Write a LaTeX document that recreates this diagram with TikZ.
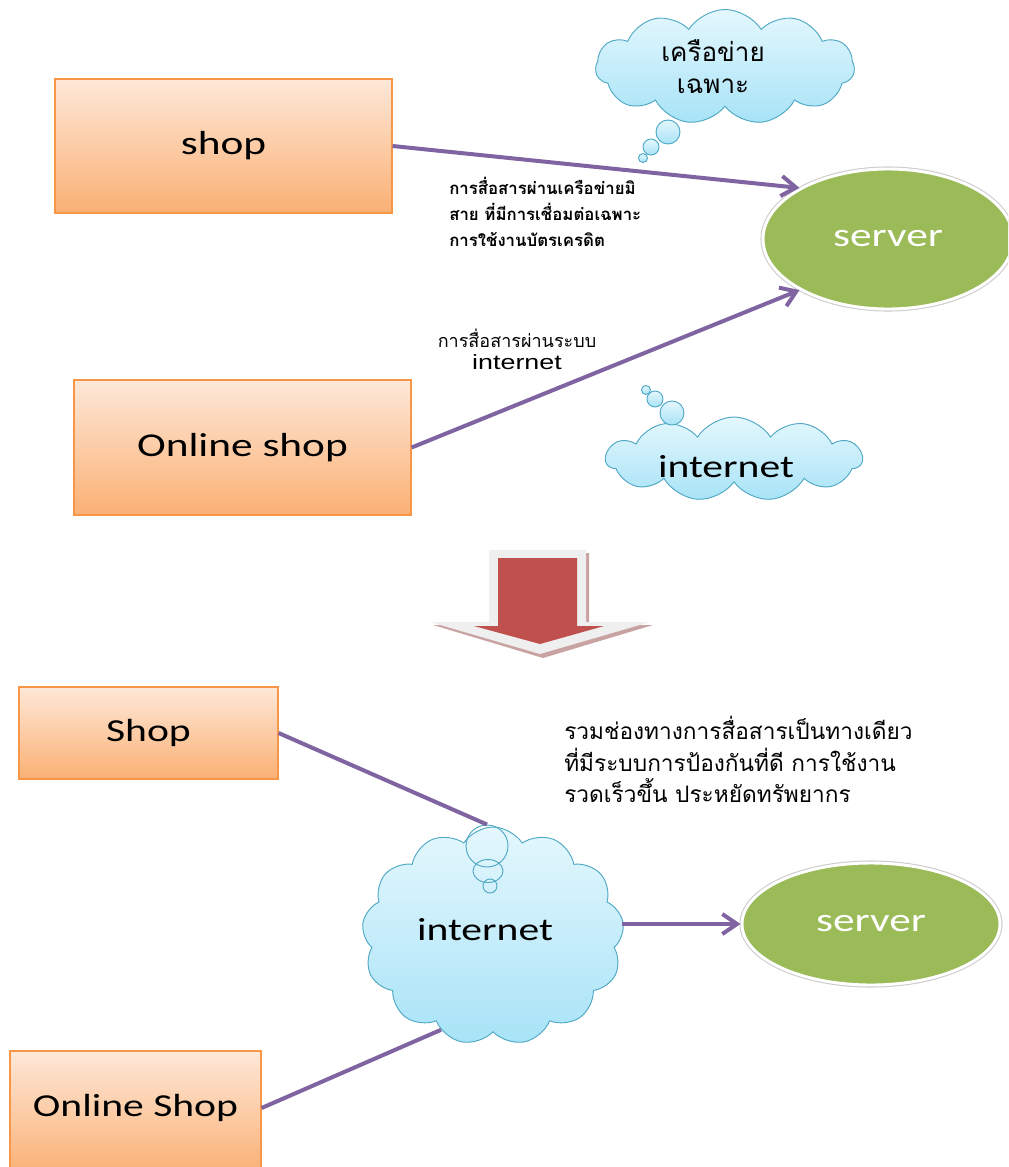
\documentclass[tikz,border=0pt]{standalone}
\usepackage{fontspec}
\setmainfont{Carlito}
\newfontfamily\boxfont[FakeStretch=1.3]{Carlito}
\newfontfamily\thaifont[Script=Thai]{Loma}
\newfontfamily\labelsans[FakeStretch=1.3]{Liberation Sans}
\usetikzlibrary{shapes.symbols,shapes.geometric,arrows.meta}

\definecolor{boxtop}{HTML}{FEE8D8}
\definecolor{boxbot}{HTML}{FAB074}
\definecolor{boxedge}{HTML}{F79646}
\definecolor{cloudtop}{HTML}{E4F7FD}
\definecolor{cloudbot}{HTML}{A8E3F7}
\definecolor{cloudedge}{HTML}{4FA8C4}
\definecolor{servergreen}{HTML}{9BBB59}
\definecolor{linkpurple}{HTML}{8064A2}
\definecolor{bigred}{HTML}{C0504D}
\definecolor{arrowhalo}{HTML}{EFEFEF}
\definecolor{arrowshade}{HTML}{C9A3A2}

\tikzset{
  boxnode/.style={rectangle, draw=boxedge, line width=0.9pt,
    top color=boxtop, bottom color=boxbot, inner sep=0pt,
    font=\boxfont\fontsize{25}{30}\selectfont},
  servernode/.style={ellipse, fill=servergreen, draw=white, line width=2.2pt,
    preaction={draw=black!20, line width=3.8pt}, inner sep=0pt,
    text=white, font=\boxfont\fontsize{25}{30}\selectfont},
  cloudnode/.style={cloud, cloud puffs=11, cloud puff arc=115, cloud ignores aspect,
    draw=cloudedge, line width=0.7pt, top color=cloudtop, bottom color=cloudbot,
    inner sep=0pt, align=center},
  cloudtext/.style={inner sep=0pt, font=\boxfont\fontsize{24}{28}\selectfont},
  bubble/.style={circle, draw=cloudedge, line width=0.7pt,
    top color=cloudtop, bottom color=cloudbot, inner sep=0pt},
  ring/.style={draw=cloudedge, line width=0.7pt, inner sep=0pt},
  link/.style={draw=linkpurple, line width=3pt},
  linkarrow/.style={link, -{Straight Barb[length=11pt,width=15pt]}},
  thailabel/.style={align=left, inner sep=0pt,
    font=\thaifont\bfseries\fontsize{12.6}{19.5}\selectfont},
}

\begin{document}
\begin{tikzpicture}[x=0.75pt,y=-0.75pt]
\clip (0,0) rectangle (1008,1167);
\fill[white] (0,0) rectangle (1008,1167);

% ---------- dedicated network (top half) ----------
\node[boxnode, minimum width=337*0.75pt, minimum height=134*0.75pt] (shopA) at (223.5,146) {shop};
\node[boxnode, minimum width=337*0.75pt, minimum height=135*0.75pt] (onlineA) at (242.5,447.5) {Online shop};
\node[servernode, minimum width=250*0.75pt, minimum height=140*0.75pt] (serverA) at (888,239) {server};

% private network cloud with its thought bubbles
\node[cloudnode, minimum width=259*0.75pt, minimum height=115*0.75pt,
      font=\thaifont\fontsize{19.5}{24}\selectfont] (privnet) at (725,67) {\hspace*{-18pt}เครือข่าย\\\hspace*{-18pt}เฉพาะ};
\node[bubble, minimum size=24*0.75pt] (pbA) at (668,132) {};
\node[bubble, minimum size=16*0.75pt] (pbB) at (651,147) {};
\node[bubble, minimum size=9*0.75pt] (pbC) at (643,158) {};

% internet cloud with its thought bubbles
\node[cloudnode, minimum width=256*0.75pt, minimum height=84*0.75pt] (netA) at (734,459) {};
\node[cloudtext] (netAtext) at (726,467) {internet};
\node[bubble, minimum size=24*0.75pt] (ibA) at (672,413) {};
\node[bubble, minimum size=16*0.75pt] (ibB) at (655,399) {};
\node[bubble, minimum size=9*0.75pt] (ibC) at (646,390) {};

\draw[linkarrow] (shopA.east) -- (serverA.150);
\draw[linkarrow] (onlineA.east) -- (serverA.210);

\node[thailabel, anchor=north west] (labA) at (449,177)
  {การสื่อสารผ่านเครือข่ายมิ\\สาย ที่มีการเชื่อมต่อเฉพาะ\\การใช้งานบัตรเครดิต};
\node[inner sep=0pt, font=\thaifont\fontsize{13.5}{16}\selectfont] (labB) at (517,338)
  {การสื่อสารผ่านระบบ};
\node[inner sep=0pt, font=\labelsans\fontsize{15.5}{18}\selectfont] (labC) at (517,362)
  {internet};

% ---------- big transition arrow ----------
\fill[arrowshade] (492,553) -- (589,553) -- (589,625) -- (653,625) -- (543,658)
  -- (433,625) -- (492,625) -- cycle;
\fill[arrowhalo] (489,550) -- (586,550) -- (586,622) -- (650,622) -- (540,654)
  -- (430,622) -- (489,622) -- cycle;
\fill[bigred] (498,558) -- (577,558) -- (577,626) -- (604,626) -- (540,644)
  -- (474,626) -- (498,626) -- cycle;

% ---------- shared internet (bottom half) ----------
\node[boxnode, minimum width=259*0.75pt, minimum height=92*0.75pt,
      font=\boxfont\fontsize{24}{28}\selectfont] (shopB) at (148.5,733) {Shop};
\node[boxnode, minimum width=251*0.75pt, minimum height=124*0.75pt] (onlineB) at (135.5,1113) {};
\node[cloudtext] (onlineBtext) at (135.5,1108) {Online Shop};
\node[servernode, minimum width=258*0.75pt, minimum height=122*0.75pt] (serverB) at (871,924) {server};

\node[cloudnode, minimum width=262*0.75pt, minimum height=218*0.75pt, cloud puffs=13] (netB) at (493,936) {};
\node[cloudtext] (netBtext) at (485,930) {internet};
\node[ring, circle, minimum size=42*0.75pt] (nbA) at (487,846) {};
\node[ring, ellipse, minimum width=30*0.75pt, minimum height=23*0.75pt] (nbB) at (488,871) {};
\node[ring, circle, minimum size=14*0.75pt] (nbC) at (490,886) {};

\draw[link] (shopB.east) -- (nbA.north);
\draw[link] (onlineB.east |- onlineBtext) -- (netB.241);
\draw[linkarrow] (netB.east |- serverB.west) -- (serverB.west);

\node[align=left, anchor=north west, inner sep=0pt,
      font=\thaifont\fontsize{17}{23.6}\selectfont] (summary) at (564,716)
  {รวมช่องทางการสื่อสารเป็นทางเดียว\\ที่มีระบบการป้องกันที่ดี การใช้งาน\\รวดเร็วขึ้น ประหยัดทรัพยากร};
\end{tikzpicture}
\end{document}
